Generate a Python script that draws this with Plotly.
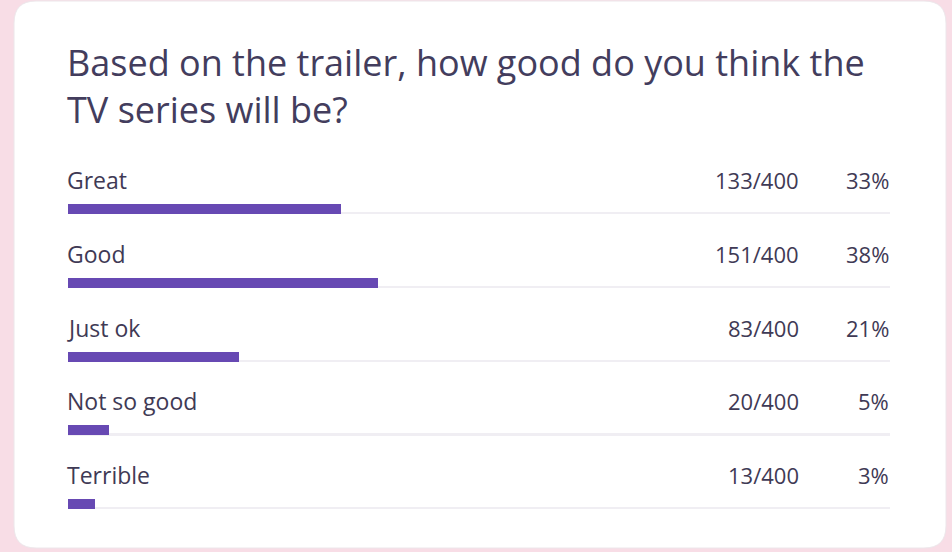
import plotly.graph_objects as go

# ---- data ----
categories = ["Great", "Good", "Just ok", "Not so good", "Terrible"]
counts = [133, 151, 83, 20, 13]
total = 400
pct_labels = ["33%", "38%", "21%", "5%", "3%"]
title_lines = ["Based on the trailer, how good do you think the", "TV series will be?"]

# ---- layout constants (pixels) ----
W, H = 952, 552
X0, X1 = 68, 890          # bar track extent
ROW0, PITCH = 209, 73.75  # first bar centre, row pitch
BAR_PX = 10
FONT = "'Open Sans', Lato, sans-serif"
TXT = "#3f3a55"
BAR = "#6749b3"
PINK = "#f8dde6"

pct_values = [c / total * 100 for c in counts]

fig = go.Figure()
# thin track lines
fig.add_trace(go.Bar(
    y=categories, x=[100] * len(categories), orientation="h",
    marker=dict(color="#f0eef3", line=dict(width=0)),
    width=1.8 / PITCH, offset=3.6 / PITCH, hoverinfo="skip", showlegend=False))
# value bars
fig.add_trace(go.Bar(
    y=categories, x=pct_values, orientation="h",
    marker=dict(color=BAR, line=dict(width=0)),
    width=BAR_PX / PITCH, showlegend=False))

ann = []
lab_font = dict(family=FONT, size=23, color=TXT, weight=500)
for cat, c, p in zip(categories, counts, pct_labels):
    ann.append(dict(x=0, xref="x", y=cat, yref="y", yshift=29, xshift=-3, text=cat,
                    xanchor="left", yanchor="middle", showarrow=False, font=lab_font))
    ann.append(dict(x=801 / W, xref="paper", y=cat, yref="y", yshift=29,
                    text=f"{c}/{total}", xanchor="right", yanchor="middle",
                    showarrow=False, font=dict(family=FONT, size=22, color=TXT)))
    ann.append(dict(x=891 / W, xref="paper", y=cat, yref="y", yshift=29,
                    text=p, xanchor="right", yanchor="middle",
                    showarrow=False, font=dict(family=FONT, size=22, color=TXT)))

ann.append(dict(x=65 / W, xref="paper", y=1 - 86 / H, yref="paper",
                text="<br>".join(title_lines), xanchor="left", yanchor="middle",
                align="left", showarrow=False,
                font=dict(family=FONT, size=36, color="#433d5d", weight=500)))

# rounded white card
L, R, T, B, r = 14, 946, 1, 548, 22
yt, yb = H - T, H - B
card = (f"M {L + r},{yb} L {R - r},{yb} Q {R},{yb} {R},{yb + r} "
        f"L {R},{yt - r} Q {R},{yt} {R - r},{yt} L {L + r},{yt} "
        f"Q {L},{yt} {L},{yt - r} L {L},{yb + r} Q {L},{yb} {L + r},{yb} Z")

fig.update_layout(
    width=W, height=H, margin=dict(l=0, r=0, t=0, b=0),
    paper_bgcolor=PINK, plot_bgcolor="rgba(0,0,0,0)",
    barmode="overlay", bargap=0,
    xaxis=dict(domain=[X0 / W, X1 / W], range=[0, 100], visible=False, fixedrange=True),
    yaxis=dict(domain=[0, 1], type="category", categoryorder="array", categoryarray=categories,
               range=[(H - ROW0) / PITCH, -ROW0 / PITCH], visible=False, fixedrange=True),
    shapes=[dict(type="path", xref="paper", yref="paper", xanchor=0, yanchor=0,
                 xsizemode="pixel", ysizemode="pixel", path=card,
                 fillcolor="white", line=dict(color="#ece6ea", width=1), layer="below")],
    annotations=ann,
    showlegend=False,
)

fig.write_html("out.html", config={"displayModeBar": False},
               post_script="document.body.style.margin='0';document.body.style.overflow='hidden';")
